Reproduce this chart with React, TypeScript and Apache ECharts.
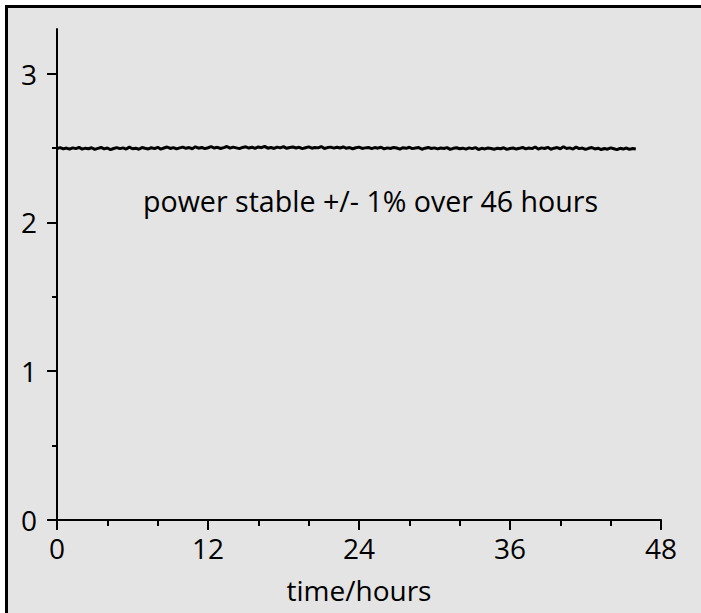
import { useEffect, useRef } from "react";
import * as echarts from "echarts";

// Sampling step of the recorded trace (hours)
const sampleStepHours = 0.25;

const powerValues: number[] = [
  2.497, 2.503, 2.494, 2.500, 2.492, 2.501, 2.496, 2.504, 2.493, 2.499,
  2.495, 2.502, 2.491, 2.498, 2.504, 2.494, 2.500, 2.489, 2.497, 2.503,
  2.496, 2.501, 2.493, 2.506, 2.495, 2.499, 2.492, 2.503, 2.498, 2.494,
  2.502, 2.496, 2.505, 2.493, 2.500, 2.507, 2.497, 2.503, 2.494, 2.501,
  2.506, 2.498, 2.503, 2.495, 2.508, 2.499, 2.504, 2.496, 2.502, 2.509,
  2.500, 2.505, 2.497, 2.503, 2.510, 2.499, 2.506, 2.501, 2.496, 2.504,
  2.508, 2.500, 2.505, 2.498, 2.507, 2.502, 2.511, 2.499, 2.504, 2.497,
  2.506, 2.501, 2.509, 2.498, 2.503, 2.507, 2.500, 2.505, 2.496, 2.502,
  2.508, 2.499, 2.504, 2.501, 2.510, 2.497, 2.503, 2.506, 2.499, 2.505,
  2.500, 2.507, 2.498, 2.503, 2.495, 2.502, 2.506, 2.497, 2.501, 2.504,
  2.496, 2.503, 2.499, 2.505, 2.494, 2.501, 2.497, 2.504, 2.500, 2.493,
  2.502, 2.498, 2.505, 2.496, 2.500, 2.503, 2.492, 2.499, 2.504, 2.497,
  2.501, 2.494, 2.500, 2.497, 2.503, 2.491, 2.498, 2.502, 2.495, 2.499,
  2.493, 2.501, 2.496, 2.503, 2.490, 2.498, 2.494, 2.500, 2.497, 2.492,
  2.499, 2.495, 2.502, 2.491, 2.497, 2.500, 2.493, 2.498, 2.504, 2.494,
  2.500, 2.496, 2.507, 2.493, 2.501, 2.497, 2.505, 2.492, 2.499, 2.503,
  2.495, 2.509, 2.497, 2.501, 2.493, 2.506, 2.496, 2.500, 2.491, 2.498,
  2.503, 2.494, 2.499, 2.490, 2.497, 2.492, 2.501, 2.495, 2.489, 2.498,
  2.493, 2.500, 2.491, 2.497, 2.494,
];

const yMajorTicks = [0, 1, 2, 3];
const yMinorTicks = [0.5, 1.5, 2.5];
const annotationText = "power stable +/- 1% over 46 hours";
const xAxisTitle = "time/hours";

const FONT = "'Open Sans', 'Noto Sans', sans-serif";
const FS = 28;

export default function App() {
  const ref = useRef<HTMLDivElement>(null);

  useEffect(() => {
    if (!ref.current) return;
    const chart = echarts.init(ref.current, undefined, { renderer: "svg" });
    const seriesData = powerValues.map((v, i) => [i * sampleStepHours, v]);
    const axisLineStyle = { color: "#000", width: 2 };
    chart.setOption({
      animation: false,
      backgroundColor: "#e4e4e4",
      textStyle: { fontFamily: FONT },
      grid: { left: 49, right: 40, top: 21, bottom: 93, containLabel: false },
      xAxis: {
        type: "value",
        min: 0,
        max: 48,
        interval: 12,
        name: xAxisTitle,
        nameLocation: "middle",
        nameGap: 56,
        nameTextStyle: { color: "#000", fontSize: FS, fontFamily: FONT },
        axisLine: { show: true, onZero: false, lineStyle: axisLineStyle },
        axisTick: { show: true, length: 10, inside: false, lineStyle: { color: "#000", width: 2 } },
        minorTick: { show: true, splitNumber: 3, length: 6, lineStyle: { color: "#000", width: 2 } },
        axisLabel: { color: "#000", fontSize: FS, margin: 14, fontFamily: FONT },
        splitLine: { show: false },
        minorSplitLine: { show: false },
      },
      yAxis: [
        {
          type: "value",
          min: 0,
          max: 3.3,
          axisLine: { show: true, onZero: false, lineStyle: axisLineStyle },
          axisTick: {
            show: true,
            length: 10,
            customValues: yMajorTicks,
            lineStyle: { color: "#000", width: 2 },
          },
          axisLabel: {
            color: "#000",
            fontSize: FS,
            margin: 20,
            fontFamily: FONT,
            customValues: yMajorTicks,
          },
          splitLine: { show: false },
        },
        {
          type: "value",
          min: 0,
          max: 3.3,
          position: "left",
          axisLine: { show: false },
          axisTick: {
            show: true,
            length: 5,
            customValues: yMinorTicks,
            lineStyle: { color: "#000", width: 2 },
          },
          axisLabel: { show: false },
          splitLine: { show: false },
        },
      ],
      series: [
        {
          type: "line",
          data: seriesData,
          showSymbol: false,
          symbol: "none",
          lineStyle: { color: "#000", width: 3 },
          yAxisIndex: 0,
        },
      ],
      graphic: [
        {
          type: "text",
          x: 135,
          y: 192,
          style: {
            text: annotationText,
            fill: "#000",
            font: `28.6px ${FONT}`,
            verticalAlign: "middle",
            align: "left",
          },
        },
      ],
    });
    return () => chart.dispose();
  }, []);

  return (
    <div
      style={{
        position: "absolute",
        left: 0,
        top: 0,
        width: 701,
        height: 613,
        background: "#fff",
        overflow: "hidden",
      }}
    >
      <div
        style={{
          position: "absolute",
          left: 5,
          top: 5,
          width: 693,
          height: 605,
          borderLeft: "3px solid #000",
          borderTop: "3px solid #000",
          background: "#e4e4e4",
        }}
      >
        <div ref={ref} style={{ width: 693, height: 605 }} />
      </div>
    </div>
  );
}
